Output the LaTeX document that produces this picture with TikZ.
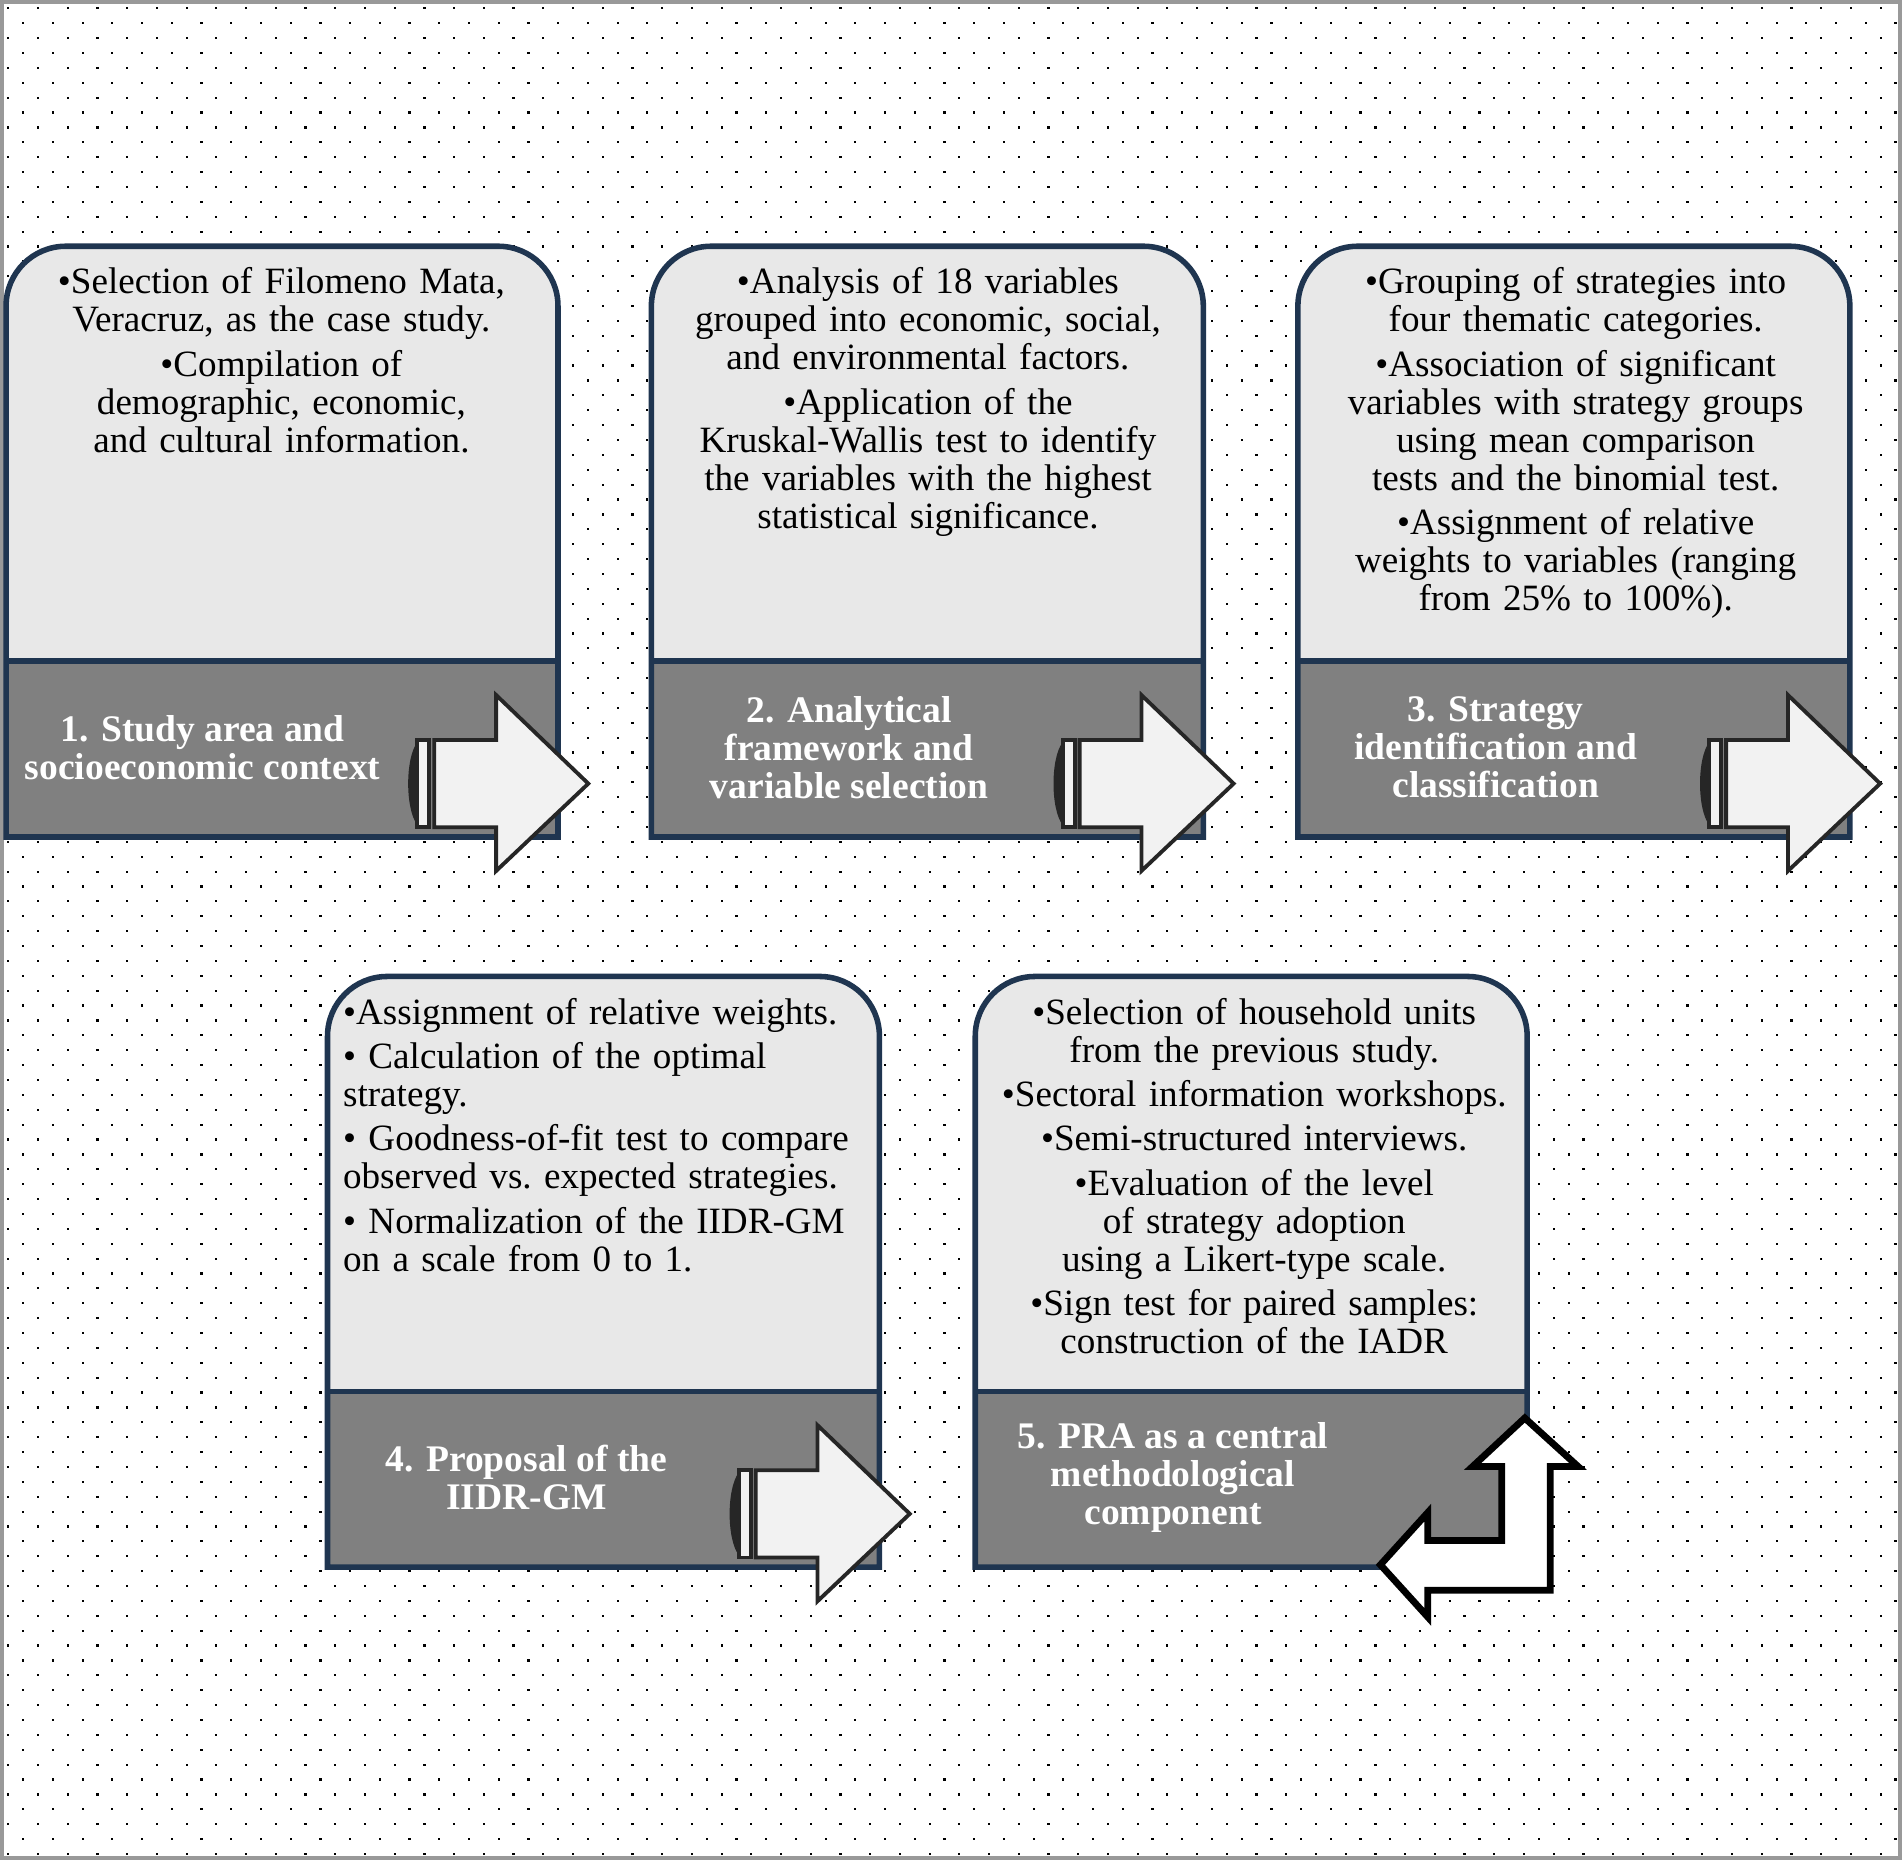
\documentclass[tikz,border=0pt]{standalone}
\usepackage{fontspec}
\setmainfont{Liberation Serif}
\hyphenpenalty=10000
\exhyphenpenalty=10000
\definecolor{navy}{HTML}{1F3550}
\definecolor{upper}{HTML}{E8E8E8}
\definecolor{lower}{HTML}{808080}
\definecolor{arr}{HTML}{F2F2F2}
\begin{document}
\begin{tikzpicture}[x=0.01cm,y=-0.01cm,
  body/.style={align=center,font=\fontsize{8.7}{8.9}\selectfont,text width=4.2cm,inner sep=0pt,anchor=north},
  ttl/.style={align=center,font=\fontsize{8.8}{8.9}\selectfont\bfseries,text=white,inner sep=0pt},
  arrw/.style={draw=black!85,line width=0.9pt,fill=arr,line join=miter}]
\useasboundingbox (0,0) rectangle (1568,1533);
\fill[white] (0,0) rectangle (1568,1533);
\foreach \r in {0,...,124}{
  \pgfmathsetmacro\off{mod(\r,2)*12.25}
  \foreach \c in {0,...,64}{
    \fill[black] ({\c*24.5+\off+6},{\r*12.27+6}) rectangle +(1.8,1.8);
  }
}
\draw[gray!80,line width=1.2pt] (1,1) rectangle (1567,1532);
\newcommand{\stepbox}[2]{%
  \begin{scope}[shift={(#1,#2)}]
  \fill[upper] (0,342) -- (0,200) [rounded corners=14] -- (0,0) -- (455,0) -- (455,200) [sharp corners] -- (455,342) -- cycle;
  \fill[lower] (0,342) rectangle (455,487);
  \draw[navy,line width=1.3pt] (0,342) -- (455,342);
  \draw[navy,line width=1.3pt] (0,487) -- (0,200) [rounded corners=14] -- (0,0) -- (455,0) -- (455,200) [sharp corners] -- (455,487) -- cycle;
  \end{scope}}
\newcommand{\flowarrow}[2]{%
  \begin{scope}[shift={(#1,#2)}]
  \fill[black!85] (344,409) .. controls (334,422) and (334,464) .. (344,477) -- cycle;
  \draw[arrw] (344,407) rectangle (354,479);
  \draw[arrw] (358,407) -- (409,407) -- (409,370) -- (485,443) -- (409,515) -- (409,479) -- (358,479) -- cycle;
  \end{scope}}
\stepbox{5}{203}
\stepbox{537}{203}
\stepbox{1070}{203}
\stepbox{270}{805}
\stepbox{804}{805}
\flowarrow{0}{203}
\flowarrow{532}{203}
\flowarrow{1065}{203}
\flowarrow{265}{805}
\draw[draw=black,line width=1.6pt,fill=white,line join=miter] (1257,1169) -- (1301,1209) -- (1278,1209) -- (1278,1311) -- (1177,1311) -- (1177,1333) -- (1138,1290) -- (1177,1247) -- (1177,1270) -- (1238,1270) -- (1238,1209) -- (1214,1209) -- cycle;
\node[body] (t1) at (232,220) {\textbullet Selection of Filomeno Mata, Veracruz, as the case study.\\[1.5pt]\textbullet Compilation of demographic, economic, and cultural information.};
\node[body] (t2) at (765,220) {\textbullet Analysis of 18 variables grouped into economic, social, and environmental factors.\\[1.5pt]\textbullet Application of the Kruskal-Wallis test to identify the variables with the highest statistical significance.};
\node[body,text width=4.3cm] (t3) at (1299,220) {\textbullet Grouping of strategies into four thematic categories.\\[1.5pt]\textbullet Association of significant variables with strategy groups using mean comparison tests and the binomial test.\\[1.5pt]\textbullet Assignment of relative weights to variables (ranging from 25\% to 100\%).};
\node[body,align=left] (t4) at (493,822) {\textbullet Assignment of relative weights.\\[1.5pt]\textbullet{} Calculation of the optimal strategy.\\[1.5pt]\textbullet{} Goodness-of-fit test to compare observed vs.~expected strategies.\\[1.5pt]\textbullet{} Normalization of the IIDR-GM on a scale from 0 to 1.};
\node[body] (t5) at (1034,822) {\textbullet Selection of household units from the previous study.\\[1.5pt]\textbullet Sectoral information workshops.\\[1.5pt]\textbullet Semi-structured interviews.\\[1.5pt]\textbullet Evaluation of the level of strategy adoption using a Likert-type scale.\\[1.5pt]\textbullet Sign test for paired samples: construction of the IADR};
\node[ttl] (h1) at (167,616) {1. Study area and\\socioeconomic context};
\node[ttl] (h2) at (700,616) {2. Analytical\\framework and\\variable selection};
\node[ttl] (h3) at (1233,616) {3. Strategy\\identification and\\classification};
\node[ttl] (h4) at (434,1218) {4. Proposal of the\\IIDR-GM};
\node[ttl] (h5) at (967,1218) {5. PRA as a central\\methodological\\component};
\end{tikzpicture}
\end{document}
